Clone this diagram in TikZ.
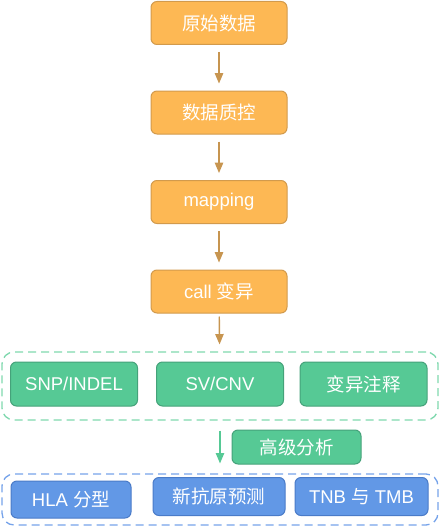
\documentclass[tikz,border=0pt]{standalone}
\usepackage{fontspec}
\setmainfont{Liberation Sans}
\newfontfamily\cjk{Noto Sans CJK SC}
\usetikzlibrary{arrows}

\definecolor{orfill}{HTML}{FDB854}
\definecolor{ordraw}{HTML}{D29A4C}
\definecolor{orarrow}{HTML}{C79550}
\definecolor{grfill}{HTML}{56C995}
\definecolor{grdraw}{HTML}{45A27A}
\definecolor{grdash}{HTML}{7FD8AE}
\definecolor{blfill}{HTML}{6298E6}
\definecolor{bldraw}{HTML}{4A7BC8}
\definecolor{bldash}{HTML}{76A3EA}

\begin{document}
\begin{tikzpicture}[x=1pt,y=1pt,>=triangle 45,node distance=89.5pt,
  every node/.style={font=\fontsize{18.5}{20}\selectfont,text=white,inner sep=0pt},
  step node/.style={rectangle,rounded corners=6pt,fill=orfill,draw=ordraw,line width=1pt,minimum width=136pt,minimum height=43pt},
  var node/.style={rectangle,rounded corners=6pt,fill=grfill,draw=grdraw,line width=1pt,minimum width=127pt,minimum height=44pt},
  app node/.style={rectangle,rounded corners=6pt,fill=blfill,draw=bldraw,line width=1pt,minimum width=132pt,minimum height=38pt},
  group node/.style={rectangle,rounded corners=12pt,dash pattern=on 8pt off 5pt,line width=1.3pt,minimum width=436pt},
  flow/.style={->,line width=1.4pt,shorten >=7pt,shorten <=7pt}]
  \useasboundingbox (0,0) rectangle (440,-527);
  \node[step node] (raw) at (219,-23) {\cjk 原始数据};
  \node[step node] (qc) [below of=raw] {\cjk 数据质控};
  \node[step node] (map) [below of=qc] {mapping};
  \node[step node] (call) [below of=map] {call {\cjk 变异}};

  \node[group node,draw=grdash,minimum height=68pt] (vargrp) at (220,-386) {};
  \node[var node] (snp) at (74,-384) {SNP/INDEL};
  \node[var node] (sv) at (220,-384) {SV/CNV};
  \node[var node] (anno) at (363.5,-384) {\cjk 变异注释};

  \node[var node,minimum width=129pt,minimum height=34pt] (adv) at (296.5,-447) {\cjk 高级分析};

  \node[group node,draw=bldash,minimum height=51pt] (appgrp) at (220,-499.5) {};
  \node[app node,minimum width=120pt,minimum height=37pt] (hla) at (71,-499.5) {HLA {\cjk 分型}};
  \node[app node] (neo) at (219,-496.5) {\cjk 新抗原预测};
  \node[app node,minimum width=133pt] (tmb) at (361.5,-496.5) {TNB {\cjk 与} TMB};

  \path[flow,color=orarrow]
    (raw) edge (qc)
    (qc) edge (map)
    (map) edge (call);
  \draw[flow,color=orarrow,shorten <=3pt] (call) -- (vargrp);
  \draw[flow,color=grfill,shorten >=10pt,shorten <=10pt] (vargrp) -- (appgrp);
\end{tikzpicture}
\end{document}
